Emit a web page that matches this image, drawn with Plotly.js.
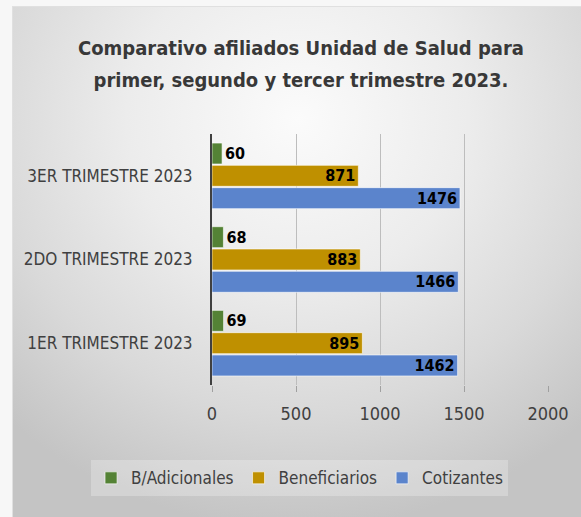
<!DOCTYPE html>
<html>
<head>
<meta charset="utf-8">
<script src="https://cdn.plot.ly/plotly-3.0.1.min.js"></script>
<style>
  html, body { margin: 0; padding: 0; width: 581px; height: 517px; background: #f7f7f7; overflow: hidden; }
  #panel { position: absolute; left: 12px; top: 6px; width: 569px; height: 511px;
    background: radial-gradient(ellipse 75% 80% at 50% 22%, #fbfbfb 0%, #ececec 40%, #d9d9d9 72%, #c4c4c4 100%);
    border-top: 1px solid #e0e0e0; border-left: 1px solid #e0e0e0; }
  #chart { position: absolute; left: 0; top: 0; width: 581px; height: 517px; }
</style>
</head>
<body>
<div id="panel"></div>
<div id="chart"></div>
<script>
const categories = ["1ER TRIMESTRE 2023", "2DO TRIMESTRE 2023", "3ER TRIMESTRE 2023"];
const cotizantes = [1462, 1466, 1476];
const beneficiarios = [895, 883, 871];
const adicionales = [69, 68, 60];
const xTicks = [0, 500, 1000, 1500, 2000];
const titleLines = ["Comparativo afiliados Unidad de Salud para", "primer, segundo y tercer trimestre 2023."];

const FONT = "'DejaVu Sans Condensed', 'Liberation Sans Narrow', sans-serif";
const labelFont = { family: FONT, size: 16, color: "#000000", weight: 700 };

function barTrace(name, values, color, pos) {
  return {
    type: "bar", orientation: "h", name: name,
    y: categories, x: values,
    marker: { color: color, line: { color: "rgba(255,255,255,0.6)", width: 1 } },
    text: values.map(String), textposition: pos,
    insidetextanchor: "end", constraintext: "none", cliponaxis: false,
    textfont: labelFont, insidetextfont: labelFont, outsidetextfont: labelFont,
    hoverinfo: "x+name"
  };
}

const data = [
  barTrace("Cotizantes", cotizantes, "#5b84cc", "inside"),
  barTrace("Beneficiarios", beneficiarios, "#bf9000", "inside"),
  barTrace("B/Adicionales", adicionales, "#548235", "outside")
];

const layout = {
  width: 581, height: 517,
  paper_bgcolor: "rgba(0,0,0,0)", plot_bgcolor: "rgba(0,0,0,0)",
  margin: { l: 212, r: 33, t: 134, b: 132 },
  barmode: "group", bargap: 0.2, bargroupgap: 0.06,
  font: { family: FONT, color: "#404040" },
  title: {
    text: titleLines.map(t => '<span style="font-size:20px">' + t + '</span>').join("<br>"),
    font: { family: FONT, size: 24, color: "#383838", weight: 700 },
    xref: "container", x: 0.518, xanchor: "center",
    yref: "container", y: 0.893, yanchor: "top"
  },
  xaxis: {
    range: [0, 2000], tickvals: xTicks, ticktext: xTicks.map(String),
    showgrid: true, gridcolor: "#bdbdbd", gridwidth: 1,
    zeroline: false, showline: false,
    ticks: "outside", ticklen: 6, tickcolor: "#a0a0a0",
    tickfont: { family: FONT, size: 18, color: "#404040" },
    ticklabelstandoff: 6, fixedrange: true
  },
  yaxis: {
    type: "category", showline: true, linecolor: "#404040", linewidth: 2,
    ticks: "", showgrid: false, zeroline: false,
    tickfont: { family: FONT, size: 17, color: "#404040" },
    ticklabelstandoff: 14, fixedrange: true
  },
  legend: {
    orientation: "h", traceorder: "reversed",
    xref: "paper", x: -0.36, xanchor: "left",
    yref: "paper", y: -0.30, yanchor: "top",
    bgcolor: "rgba(255,255,255,0.25)", borderwidth: 0,
    font: { family: FONT, size: 17, color: "#404040" },
    itemwidth: 30
  },
  showlegend: true
};

Plotly.newPlot("chart", data, layout, { displayModeBar: false, staticPlot: true });
</script>
</body>
</html>
